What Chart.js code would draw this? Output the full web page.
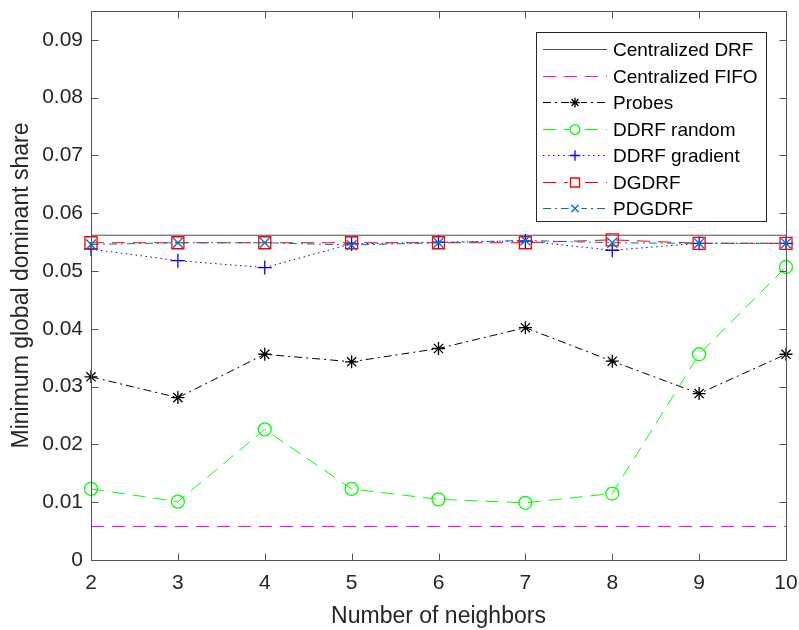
<!DOCTYPE html>
<html>
<head>
<meta charset="utf-8">
<title>Minimum global dominant share</title>
<script src="https://cdn.jsdelivr.net/npm/chart.js@4.4.0/dist/chart.umd.min.js"></script>
<style>
  html, body { margin: 0; padding: 0; background: #fff; }
  canvas { display: block; }
</style>
</head>
<body>
<canvas id="shareChart" width="799" height="630"></canvas>
<script>
// x values (number of neighbors)
const neighbors = [2, 3, 4, 5, 6, 7, 8, 9, 10];

// minimum global dominant share per scheme
const centralizedDrf  = [0.0562, 0.0562, 0.0562, 0.0562, 0.0562, 0.0562, 0.0562, 0.0562, 0.0562];
const centralizedFifo = [0.0058, 0.0058, 0.0058, 0.0058, 0.0058, 0.0058, 0.0058, 0.0058, 0.0058];
const probes          = [0.0317, 0.0281, 0.0356, 0.0343, 0.0366, 0.0402, 0.0344, 0.0288, 0.0356];
const ddrfRandom      = [0.0123, 0.0101, 0.0226, 0.0123, 0.0105, 0.0099, 0.0115, 0.0356, 0.0507];
const ddrfGradient    = [0.0538, 0.0518, 0.0506, 0.0547, 0.0550, 0.0552, 0.0536, 0.0548, 0.0548];
const dgdrf           = [0.0549, 0.0549, 0.0549, 0.0549, 0.0549, 0.0549, 0.0554, 0.0548, 0.0548];
const pdgdrf          = [0.0546, 0.0549, 0.0549, 0.0545, 0.0549, 0.0553, 0.0549, 0.0548, 0.0548];

const xTicks = [2, 3, 4, 5, 6, 7, 8, 9, 10];
const yTicks = [0, 0.01, 0.02, 0.03, 0.04, 0.05, 0.06, 0.07, 0.08, 0.09];
const yTickLabels = ['0', '0.01', '0.02', '0.03', '0.04', '0.05', '0.06', '0.07', '0.08', '0.09'];

const FONT = "'Liberation Sans', Arial, Helvetica, sans-serif";
const TEXT_COLOR = '#262626';
const AXIS_COLOR = '#555555';

function points(values) {
    return values.map(function(v, i) { return { x: neighbors[i], y: v }; });
}

function series(label, values, color, dash, marker, radius) {
    return {
        label: label,
        data: points(values),
        borderColor: color,
        borderWidth: 1,
        borderDash: dash,
        pointStyle: marker || 'circle',
        pointRadius: marker ? radius : 0,
        pointHoverRadius: marker ? radius : 0,
        pointBorderColor: color,
        pointBackgroundColor: 'rgba(0,0,0,0)',
        pointBorderWidth: 1.3,
        tension: 0,
        fill: false,
        clip: false
    };
}

const datasets = [
    series('Centralized DRF', centralizedDrf, '#4d4d4d', [], null, 0),
    series('Centralized FIFO', centralizedFifo, '#ff00ff', [13, 8], null, 0),
    series('Probes', probes, '#000000', [8, 4, 2, 4], 'star', 6.5),
    series('DDRF random', ddrfRandom, '#00ff00', [13, 8], 'circle', 6.5),
    series('DDRF gradient', ddrfGradient, '#0000ff', [1.5, 3.5], 'cross', 7),
    series('DGDRF', dgdrf, '#ff0000', [13, 8], 'rect', 8.5),
    series('PDGDRF', pdgdrf, '#0072bd', [8, 4, 2, 4], 'crossRot', 7)
];
// later series sit on top of earlier ones
datasets.forEach(function(ds, i) { ds.order = datasets.length - i; });

// small outline marker used in the legend
function drawMarker(ctx, style, x, y, r) {
    const d = r * Math.SQRT1_2;
    ctx.beginPath();
    if (style === 'circle') {
        ctx.arc(x, y, r, 0, Math.PI * 2);
    } else if (style === 'rect') {
        ctx.rect(x - d, y - d, 2 * d, 2 * d);
    } else {
        if (style === 'cross' || style === 'star') {
            ctx.moveTo(x - r, y); ctx.lineTo(x + r, y);
            ctx.moveTo(x, y - r); ctx.lineTo(x, y + r);
        }
        if (style === 'crossRot' || style === 'star') {
            ctx.moveTo(x - d, y - d); ctx.lineTo(x + d, y + d);
            ctx.moveTo(x - d, y + d); ctx.lineTo(x + d, y - d);
        }
    }
    ctx.stroke();
}

// box around the axes with inward tick marks on all four sides
const framePlugin = {
    id: 'frame',
    afterDatasetsDraw: function(chart) {
        const ctx = chart.ctx;
        const a = chart.chartArea;
        const l = Math.floor(a.left) + 0.5, r = Math.floor(a.right) + 0.5;
        const t = Math.floor(a.top) + 0.5, b = Math.floor(a.bottom) + 0.5;
        const len = 7;
        ctx.save();
        ctx.strokeStyle = AXIS_COLOR;
        ctx.lineWidth = 1;
        ctx.setLineDash([]);
        ctx.strokeRect(l, t, r - l, b - t);
        ctx.beginPath();
        xTicks.forEach(function(v) {
            const px = Math.round(chart.scales.x.getPixelForValue(v)) + 0.5;
            ctx.moveTo(px, b); ctx.lineTo(px, b - len);
            ctx.moveTo(px, t); ctx.lineTo(px, t + len);
        });
        yTicks.forEach(function(v) {
            const py = Math.round(chart.scales.y.getPixelForValue(v)) + 0.5;
            ctx.moveTo(l, py); ctx.lineTo(l + len, py);
            ctx.moveTo(r, py); ctx.lineTo(r - len, py);
        });
        ctx.stroke();
        ctx.restore();
    }
};

const legendPlugin = {
    id: 'boxLegend',
    afterDraw: function(chart) {
        const ctx = chart.ctx;
        const left = 536.5, top = 32.5, right = 766.5, bottom = 221.5;
        const rowTop = 49, rowStep = 26.5;
        const lineStart = 543, lineEnd = 607, textX = 613;
        ctx.save();
        ctx.fillStyle = '#ffffff';
        ctx.fillRect(left, top, right - left, bottom - top);
        ctx.strokeStyle = TEXT_COLOR;
        ctx.lineWidth = 1;
        ctx.setLineDash([]);
        ctx.strokeRect(left, top, right - left, bottom - top);

        chart.data.datasets.forEach(function(ds, i) {
            const y = Math.round(rowTop + i * rowStep) + 0.5;
            ctx.strokeStyle = ds.borderColor;
            ctx.lineWidth = 1;
            ctx.setLineDash(ds.borderDash || []);
            ctx.beginPath();
            ctx.moveTo(lineStart, y);
            ctx.lineTo(lineEnd, y);
            ctx.stroke();
            if (ds.pointRadius > 0) {
                ctx.setLineDash([]);
                ctx.fillStyle = '#ffffff';
                const mx = (lineStart + lineEnd) / 2;
                const mr = ds.pointRadius * 0.75;
                ctx.fillRect(mx - mr - 1, y - mr - 1, 2 * mr + 2, 2 * mr + 2);
                ctx.lineWidth = 1.3;
                drawMarker(ctx, ds.pointStyle, mx, y, mr);
            }
            ctx.fillStyle = '#000000';
            ctx.font = '19px ' + FONT;
            ctx.textAlign = 'left';
            ctx.textBaseline = 'middle';
            ctx.fillText(ds.label, textX, y + 1);
        });
        ctx.restore();
    }
};

const ctx = document.getElementById('shareChart').getContext('2d');
new Chart(ctx, {
    type: 'line',
    data: { datasets: datasets },
    options: {
        responsive: false,
        animation: false,
        events: [],
        layout: { padding: { top: 11, right: 13, bottom: 0, left: 0 } },
        plugins: {
            legend: { display: false },
            tooltip: { enabled: false }
        },
        scales: {
            x: {
                type: 'linear',
                min: 2,
                max: 10,
                afterBuildTicks: function(scale) {
                    scale.ticks = xTicks.map(function(v) { return { value: v }; });
                },
                afterFit: function(scale) {
                    scale.height = 70;
                    scale.paddingLeft = 0;
                    scale.paddingRight = 0;
                },
                grid: { display: false, drawTicks: false },
                border: { display: false },
                ticks: {
                    padding: 11,
                    color: TEXT_COLOR,
                    font: { family: FONT, size: 21 },
                    maxRotation: 0,
                    callback: function(v) { return String(v); }
                },
                title: {
                    display: true,
                    text: 'Number of neighbors',
                    color: TEXT_COLOR,
                    font: { family: FONT, size: 23 },
                    padding: { top: 0, bottom: 0 }
                }
            },
            y: {
                type: 'linear',
                min: 0,
                max: 0.095,
                afterBuildTicks: function(scale) {
                    scale.ticks = yTicks.map(function(v) { return { value: v }; });
                },
                afterFit: function(scale) {
                    scale.width = 91;
                    scale.paddingTop = 0;
                    scale.paddingBottom = 0;
                },
                grid: { display: false, drawTicks: false },
                border: { display: false },
                ticks: {
                    padding: 8,
                    color: TEXT_COLOR,
                    font: { family: FONT, size: 21 },
                    callback: function(v) {
                        const i = yTicks.indexOf(v);
                        return i >= 0 ? yTickLabels[i] : '';
                    }
                },
                title: {
                    display: true,
                    text: 'Minimum global dominant share',
                    color: TEXT_COLOR,
                    font: { family: FONT, size: 23 },
                    padding: { top: 8, bottom: 0 }
                }
            }
        }
    },
    plugins: [framePlugin, legendPlugin]
});
</script>
</body>
</html>
